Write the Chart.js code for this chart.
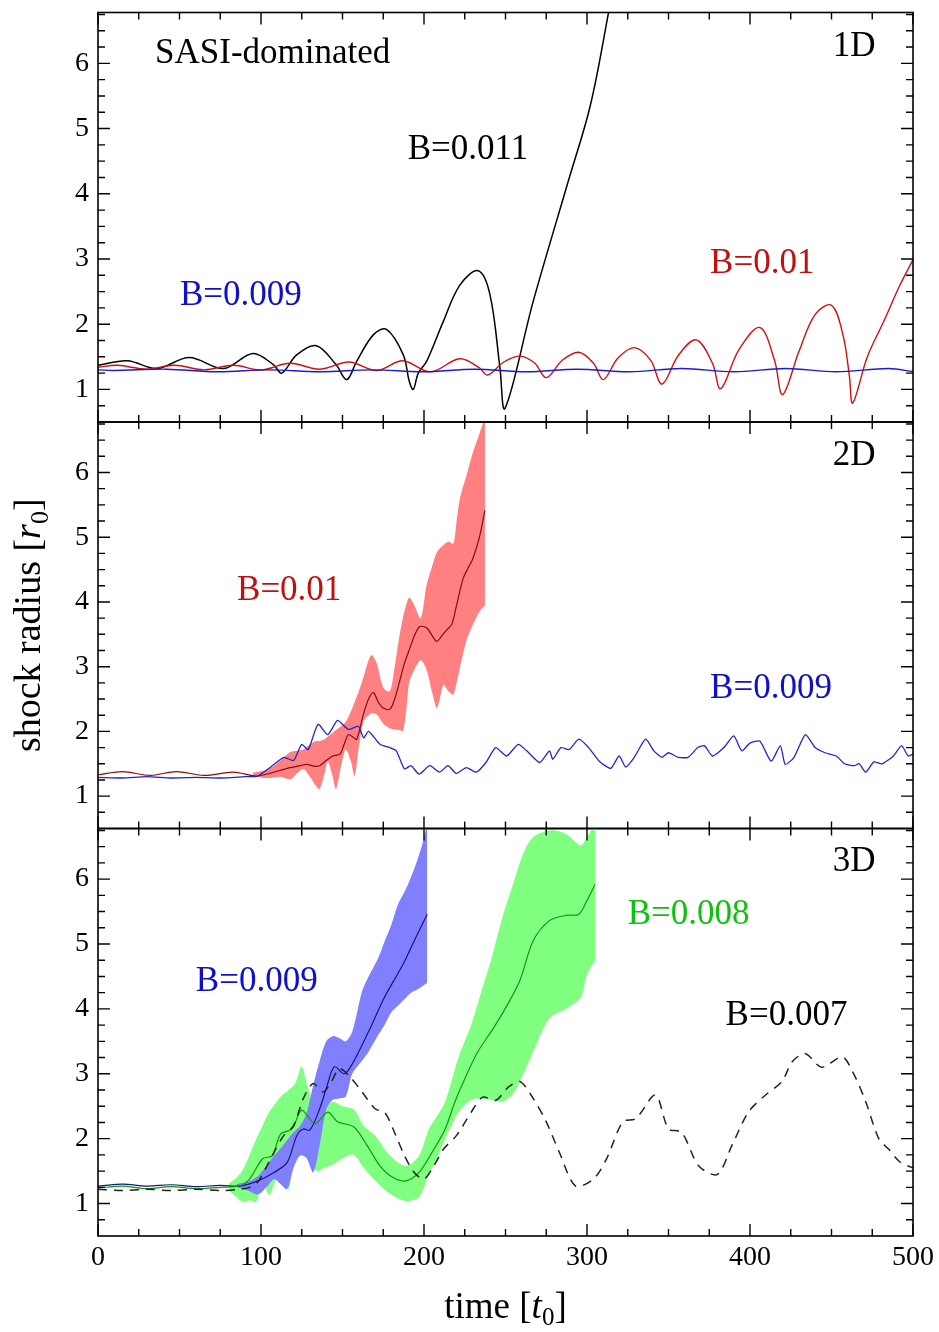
<!DOCTYPE html>
<html>
<head>
<meta charset="utf-8">
<script src="https://cdn.jsdelivr.net/npm/chart.js@4.4.0/dist/chart.umd.min.js"></script>
<style>
  html, body { margin: 0; padding: 0; background: #fff; }
  #wrap { position: relative; width: 939px; height: 1332px; }
  #wrap canvas { position: absolute; left: 0; }
</style>
</head>
<body>
<div id="wrap">
  <canvas id="c1" width="939" height="432" style="top:0px"></canvas>
  <canvas id="c2" width="939" height="426" style="top:412px"></canvas>
  <canvas id="c3" width="939" height="514" style="top:818px"></canvas>
</div>
<script>
// tick labels
const xTickLabels = [0, 100, 200, 300, 400, 500];
const yTickLabels = [1, 2, 3, 4, 5, 6];

// ---- 1D panel ----
const t1dBlue = [0, 10, 42, 73, 105, 136, 168, 200, 231, 263, 294, 326, 358, 390, 422, 453, 485, 500];
const r1dBlue = [1.30, 1.29, 1.31, 1.27, 1.30, 1.27, 1.30, 1.27, 1.31, 1.27, 1.31, 1.27, 1.32, 1.27, 1.32, 1.27, 1.32, 1.27];

const t1dRed = [0, 12, 30, 47, 65, 83, 100, 118, 136, 154, 171, 187, 204, 222, 234, 239, 249, 259, 268, 275,
  285, 295, 304, 310, 319, 329, 339, 346, 356, 367, 377, 382, 393, 406, 415, 420, 430, 440, 450, 457,
  461, 463, 472, 482, 492, 500];
const r1dRed = [1.34, 1.37, 1.31, 1.37, 1.30, 1.37, 1.30, 1.40, 1.31, 1.42, 1.29, 1.44, 1.27, 1.47, 1.33, 1.22, 1.42, 1.51, 1.40, 1.18,
  1.45, 1.57, 1.40, 1.15, 1.48, 1.64, 1.45, 1.08, 1.52, 1.76, 1.40, 1.01, 1.60, 1.95, 1.45, 0.92, 1.58, 2.15, 2.29, 1.84,
  1.20, 0.79, 1.50, 2.04, 2.60, 2.99];

const t1dBlack = [0, 18, 36, 56, 77, 95, 107.6, 112.7, 121.9, 134, 146, 152.6, 158.7, 169, 177, 187.3, 191, 193.4, 196.5, 201.6,
  211.8, 222, 233.3, 240.5, 246.6, 249.7, 267, 288, 302, 313, 322];
const r1dBlack = [1.37, 1.44, 1.32, 1.49, 1.32, 1.55, 1.38, 1.25, 1.53, 1.67, 1.38, 1.15, 1.43, 1.84, 1.92, 1.53, 1.12, 1.00, 1.25, 1.43,
  2.04, 2.60, 2.82, 2.45, 1.33, 0.71, 2.35, 4.15, 5.35, 6.75, 8.0];

// ---- 2D panel ----
const t2dBlue = [0, 15, 30, 45, 60, 75, 90, 98, 105.5, 114, 120, 125, 129, 135, 141, 147, 153.6, 159.7, 163, 166,
  173, 179, 183, 188, 192, 197, 203.5, 209.6, 214.7, 219.8, 226, 232, 238, 244, 250.7, 257.8, 263, 271, 277, 279,
  284, 289, 295, 301, 307.5, 314.6, 319.7, 323.8, 329, 336, 341, 346, 350, 356, 362, 368, 372, 377, 384, 390,
  395, 400, 406, 413, 418.6, 421.6, 427, 434, 440, 446, 453, 458, 464, 467, 471, 476, 481, 488, 493, 497, 500];
const r2dBlue = [1.29, 1.28, 1.30, 1.28, 1.29, 1.28, 1.30, 1.31, 1.44, 1.60, 1.55, 1.80, 1.72, 2.11, 1.95, 2.17, 2.03, 2.08, 1.90, 2.00,
  1.80, 1.75, 1.70, 1.42, 1.47, 1.34, 1.47, 1.37, 1.47, 1.35, 1.44, 1.37, 1.52, 1.75, 1.62, 1.80, 1.70, 1.52, 1.70, 1.57,
  1.75, 1.72, 1.88, 1.75, 1.54, 1.43, 1.62, 1.45, 1.60, 1.88, 1.70, 1.60, 1.67, 1.60, 1.60, 1.75, 1.78, 1.62, 1.75, 1.93,
  1.70, 1.82, 1.85, 1.54, 1.78, 1.49, 1.60, 1.95, 1.75, 1.67, 1.62, 1.50, 1.47, 1.50, 1.37, 1.53, 1.50, 1.62, 1.78, 1.62, 1.65];

const t2dRed = [0, 15, 32, 48, 65, 83, 97, 105, 112, 118, 124, 128, 133, 136, 140, 144, 148.5, 151, 153.6, 156,
  158.7, 162.8, 166, 169, 172, 175, 179, 182, 185, 188, 191.4, 194.5, 197.5, 201.6, 204.5, 207.8, 211, 214, 217, 220,
  224, 227, 230, 234, 237.4];
const r2dRed = [1.33, 1.38, 1.32, 1.38, 1.32, 1.37, 1.31, 1.35, 1.40, 1.44, 1.47, 1.49, 1.46, 1.47, 1.55, 1.62, 1.65, 1.80, 1.95, 1.92,
  1.88, 2.26, 2.50, 2.60, 2.45, 2.36, 2.34, 2.50, 2.77, 3.05, 3.29, 3.50, 3.62, 3.60, 3.50, 3.39, 3.48, 3.57, 3.65, 3.95,
  4.36, 4.52, 4.67, 5.00, 5.42];

const t2dRedBand = [95, 105, 112, 118, 122, 126, 130, 134, 136, 139, 141, 144, 146, 149, 152, 155, 157.4, 160, 163, 166,
  168, 171, 175, 179, 182, 185, 187, 189, 191, 194, 198, 201.6, 205, 208, 212, 215, 218, 220, 222, 226,
  230, 234, 237.4];
const r2dRedHi = [1.36, 1.42, 1.55, 1.68, 1.70, 1.72, 1.80, 1.85, 1.85, 1.88, 1.92, 1.98, 2.02, 2.08, 2.15, 2.30, 2.45, 2.62, 2.85, 3.10,
  3.18, 3.05, 2.68, 2.62, 3.00, 3.49, 3.75, 3.95, 4.07, 3.95, 3.75, 4.26, 4.55, 4.77, 4.88, 4.93, 4.90, 5.25, 5.60, 5.95,
  6.31, 6.60, 6.85];
const r2dRedLo = [1.30, 1.28, 1.30, 1.26, 1.35, 1.42, 1.30, 1.15, 1.11, 1.35, 1.54, 1.30, 1.11, 1.45, 1.72, 1.55, 1.31, 1.75, 2.16, 2.25,
  2.28, 2.26, 2.12, 2.05, 2.03, 2.02, 2.00, 2.30, 2.77, 2.95, 3.10, 2.95, 2.60, 2.36, 2.72, 2.62, 2.57, 2.75, 2.98, 3.40,
  3.65, 3.85, 3.95];

// ---- 3D panel ----
const t3dBlack = [0, 15, 30, 45, 60, 75, 87, 93, 98, 103, 108, 114, 120, 126, 132, 138, 143, 148, 154, 162,
  170, 176, 182, 188, 194, 200, 206, 212, 220, 229, 236, 244, 252, 259, 267, 275, 283, 293, 304, 312,
  322, 330, 342, 350, 358, 368.6, 380, 389, 399, 409.4, 419.6, 426, 434, 444, 456.6, 463, 471, 479, 485, 492, 500];
const r3dBlack = [1.22, 1.20, 1.22, 1.20, 1.22, 1.20, 1.22, 1.25, 1.33, 1.55, 1.79, 2.05, 2.20, 2.62, 2.85, 2.72, 2.87, 3.08, 2.97, 2.72,
  2.46, 2.40, 2.09, 1.74, 1.48, 1.38, 1.58, 1.84, 2.05, 2.41, 2.64, 2.59, 2.80, 2.88, 2.62, 2.26, 1.79, 1.27, 1.38, 1.69,
  2.26, 2.31, 2.67, 2.15, 2.10, 1.58, 1.45, 1.90, 2.41, 2.67, 2.88, 3.19, 3.31, 3.10, 3.26, 3.03, 2.57, 2.00, 1.84, 1.64, 1.55];

const t3dBlue = [0, 15, 30, 45, 60, 75, 87, 98, 108, 116, 122, 126, 130, 136, 140, 145, 151, 156, 166, 176, 187, 195, 202];
const r3dBlue = [1.27, 1.30, 1.27, 1.29, 1.26, 1.28, 1.27, 1.35, 1.48, 1.63, 2.05, 2.15, 2.13, 2.46, 2.77, 3.11, 3.00, 3.15, 3.65, 4.19, 4.68, 5.10, 5.46];

const t3dBlueBand = [85, 92, 98, 104, 108, 112, 116, 120, 124, 128, 132, 136, 140, 144, 148, 152, 156, 162, 166, 172,
  176, 180, 184, 188, 192, 196, 199, 202];
const r3dBlueHi = [1.30, 1.34, 1.42, 1.60, 1.74, 1.85, 1.98, 2.10, 2.20, 2.40, 2.82, 3.20, 3.50, 3.58, 3.55, 3.50, 3.65, 4.27, 4.50, 4.79,
  5.05, 5.30, 5.61, 5.80, 6.03, 6.30, 6.54, 6.85];
const r3dBlueLo = [1.25, 1.20, 1.14, 1.27, 1.38, 1.30, 1.22, 1.55, 1.74, 1.70, 1.48, 1.90, 2.45, 2.60, 2.62, 2.65, 3.00, 3.20, 3.34, 3.60,
  3.76, 3.95, 4.05, 4.15, 4.25, 4.30, 4.35, 4.40];

const t3dGreen = [0, 15, 30, 45, 60, 75, 87, 93, 101, 107, 112, 119, 125, 133, 141, 147, 157, 165, 173, 181,
  189, 197, 205, 213, 219, 227, 233, 243, 252, 259, 267, 277, 287, 295, 300, 305];
const r3dGreen = [1.24, 1.27, 1.23, 1.26, 1.23, 1.25, 1.27, 1.38, 1.69, 1.74, 2.07, 2.15, 2.44, 2.23, 2.41, 2.26, 2.18, 1.90, 1.58, 1.40,
  1.35, 1.48, 1.79, 2.15, 2.57, 3.03, 3.34, 3.72, 4.10, 4.45, 5.05, 5.36, 5.44, 5.46, 5.67, 5.92];

const t3dGreenBand = [80, 85, 89, 93, 97, 101, 105, 109, 113, 117, 121, 125, 129, 134, 139, 144, 150, 157, 163, 170,
  179, 189, 197, 203, 208, 213, 221, 229, 235, 241, 248, 255, 261, 267, 277, 287, 296, 300, 305];
const r3dGreenHi = [1.30, 1.40, 1.53, 1.75, 1.99, 2.20, 2.41, 2.55, 2.67, 2.75, 2.85, 3.11, 2.77, 2.50, 2.50, 2.57, 2.50, 2.45, 2.20, 2.05,
  1.74, 1.58, 1.74, 2.15, 2.35, 2.57, 3.24, 3.76, 4.25, 4.74, 5.40, 5.95, 6.40, 6.65, 6.75, 6.70, 6.52, 6.65, 6.85];
const r3dGreenLo = [1.20, 1.10, 1.02, 1.05, 1.02, 1.33, 1.13, 1.35, 1.40, 1.22, 1.79, 1.80, 1.85, 1.50, 1.55, 1.60, 1.70, 1.75, 1.55, 1.35,
  1.15, 1.04, 1.10, 1.45, 1.70, 2.00, 2.40, 2.60, 2.62, 2.60, 2.57, 2.70, 3.00, 3.34, 3.86, 4.00, 4.17, 4.53, 4.74];

// ---- helpers ----
const FONT = '"Liberation Serif", "Times New Roman", serif';
const pts = (ts, vs) => ts.map((t, i) => ({ x: t, y: vs[i] }));

function line(ts, vs, color, extra) {
  return Object.assign({ data: pts(ts, vs), borderColor: color, borderWidth: 1.4, fill: false, tension: 0.35 }, extra || {});
}

function band(ts, vs, color, fillTo) {
  return { data: pts(ts, vs), borderWidth: 0, borderColor: color, backgroundColor: color, fill: fillTo, tension: 0.3 };
}

// mixed style text: [text, style] with style '', 'i' or 'sub'
function drawRuns(ctx, runs, size) {
  const fontOf = s => s === 'i' ? `italic ${size}px ${FONT}` : s === 'sub' ? `${Math.round(size * 0.68)}px ${FONT}` : `${size}px ${FONT}`;
  let w = 0;
  runs.forEach(([txt, s]) => { ctx.font = fontOf(s); w += ctx.measureText(txt).width; });
  let x = -w / 2;
  ctx.textAlign = 'left';
  ctx.textBaseline = 'alphabetic';
  runs.forEach(([txt, s]) => {
    ctx.font = fontOf(s);
    ctx.fillText(txt, x, s === 'sub' ? size * 0.2 : 0);
    x += ctx.measureText(txt).width;
  });
}

// frame + inward ticks on all four sides, panel labels, axis titles
const panelDecor = {
  id: 'panelDecor',
  afterDatasetsDraw(chart, args, opts) {
    const { ctx, chartArea: a, scales: { x, y } } = chart;
    ctx.save();
    ctx.strokeStyle = '#000';
    ctx.lineWidth = 1.4;
    ctx.beginPath();
    for (let t = 0; t <= 500; t += 25) {
      const px = x.getPixelForValue(t);
      const len = t % 100 === 0 ? 12 : 7;
      ctx.moveTo(px, a.top); ctx.lineTo(px, a.top + len);
      ctx.moveTo(px, a.bottom); ctx.lineTo(px, a.bottom - len);
    }
    for (let k = 3; k <= 27; k++) {
      const v = k / 4;
      const py = y.getPixelForValue(v);
      const len = k % 4 === 0 ? 12 : 7;
      ctx.moveTo(a.left, py); ctx.lineTo(a.left + len, py);
      ctx.moveTo(a.right, py); ctx.lineTo(a.right - len, py);
    }
    ctx.stroke();
    ctx.lineWidth = 1.6;
    ctx.strokeRect(a.left, a.top, a.right - a.left, a.bottom - a.top);

    (opts.labels || []).forEach(l => {
      ctx.font = `${l.size || 35}px ${FONT}`;
      ctx.fillStyle = l.color;
      ctx.textAlign = l.align || 'left';
      ctx.textBaseline = 'middle';
      ctx.fillText(l.text, x.getPixelForValue(l.t), y.getPixelForValue(l.r));
    });

    ctx.fillStyle = '#000';
    if (opts.yTitle) {
      ctx.save();
      ctx.translate(40, (a.top + a.bottom) / 2);
      ctx.rotate(-Math.PI / 2);
      drawRuns(ctx, [['shock radius [', ''], ['r', 'i'], ['0', 'sub'], [']', '']], 38);
      ctx.restore();
    }
    if (opts.xTitle) {
      ctx.save();
      ctx.translate((a.left + a.right) / 2, chart.height - 14);
      drawRuns(ctx, [['time [', ''], ['t', 'i'], ['0', 'sub'], [']', '']], 37);
      ctx.restore();
    }
    ctx.restore();
  }
};

function makeChart(id, datasets, cfg) {
  return new Chart(document.getElementById(id), {
    type: 'line',
    data: { datasets: datasets },
    plugins: [panelDecor],
    options: {
      responsive: false,
      animation: false,
      events: [],
      layout: { padding: { top: cfg.padTop, bottom: cfg.padBottom, left: 0, right: 26 } },
      elements: { point: { radius: 0 } },
      plugins: {
        legend: { display: false },
        tooltip: { enabled: false },
        panelDecor: { labels: cfg.labels, xTitle: cfg.xTitle, yTitle: cfg.yTitle }
      },
      scales: {
        x: {
          type: 'linear', min: 0, max: 500, display: cfg.showX,
          grid: { display: false, drawTicks: false }, border: { display: false },
          afterBuildTicks: s => { s.ticks = xTickLabels.map(v => ({ value: v })); },
          afterFit: s => {
            s.height = cfg.showX ? 96 : 0;
            s.paddingLeft = 0; s.paddingRight = 0;
          },
          ticks: { font: { family: FONT, size: 28 }, color: '#000', padding: 5, maxRotation: 0, autoSkip: false }
        },
        y: {
          type: 'linear', min: 0.5, max: 6.78,
          grid: { display: false, drawTicks: false }, border: { display: false },
          afterBuildTicks: s => { s.ticks = yTickLabels.map(v => ({ value: v })); },
          afterFit: s => {
            s.width = 98;
            s.paddingTop = 0; s.paddingBottom = 0;
          },
          ticks: { font: { family: FONT, size: 28 }, color: '#000', padding: 9 }
        }
      }
    }
  });
}

// 1D
makeChart('c1', [
  line(t1dBlue, r1dBlue, '#1a1ad8'),
  line(t1dRed, r1dRed, '#cc1111'),
  line(t1dBlack, r1dBlack, '#000000', { borderWidth: 1.5 })
], {
  padTop: 12.5, padBottom: 10, showX: false,
  labels: [
    { text: 'SASI-dominated', t: 35, r: 6.15, color: '#000' },
    { text: '1D', t: 477, r: 6.25, color: '#000', align: 'right' },
    { text: 'B=0.011', t: 190, r: 4.67, color: '#000' },
    { text: 'B=0.009', t: 50.3, r: 2.43, color: '#1010c8' },
    { text: 'B=0.01', t: 375.5, r: 2.92, color: '#c01010' }
  ]
});

// 2D
makeChart('c2', [
  line(t2dBlue, r2dBlue, '#2424cc', { borderWidth: 1.3, tension: 0.2 }),
  line(t2dRed, r2dRed, '#8a0a0a', { borderWidth: 1.2, tension: 0.3 }),
  band(t2dRedBand, r2dRedHi, '#ff8080', '+1'),
  band(t2dRedBand, r2dRedLo, '#ff8080', false)
], {
  padTop: 10, padBottom: 9.5, showX: false, yTitle: true,
  labels: [
    { text: '2D', t: 477, r: 6.25, color: '#000', align: 'right' },
    { text: 'B=0.01', t: 85.3, r: 4.17, color: '#c01010' },
    { text: 'B=0.009', t: 375.5, r: 2.66, color: '#1010c8' }
  ]
});

// 3D
makeChart('c3', [
  line(t3dBlack, r3dBlack, '#222222', { borderDash: [9, 7], borderWidth: 1.5, tension: 0.3 }),
  line(t3dGreen, r3dGreen, '#0c9a0c', { borderWidth: 1.2, tension: 0.3 }),
  line(t3dBlue, r3dBlue, '#16167a', { borderWidth: 1.2, tension: 0.3 }),
  band(t3dBlueBand, r3dBlueHi, '#8080ff', '+1'),
  band(t3dBlueBand, r3dBlueLo, '#8080ff', false),
  band(t3dGreenBand, r3dGreenHi, '#80ff80', '+1'),
  band(t3dGreenBand, r3dGreenLo, '#80ff80', false)
], {
  padTop: 10.5, padBottom: 0, showX: true, xTitle: true,
  labels: [
    { text: '3D', t: 477, r: 6.26, color: '#000', align: 'right' },
    { text: 'B=0.008', t: 325, r: 5.45, color: '#10c010' },
    { text: 'B=0.009', t: 60, r: 4.41, color: '#1010c8' },
    { text: 'B=0.007', t: 385, r: 3.89, color: '#000' }
  ]
});
</script>
</body>
</html>
